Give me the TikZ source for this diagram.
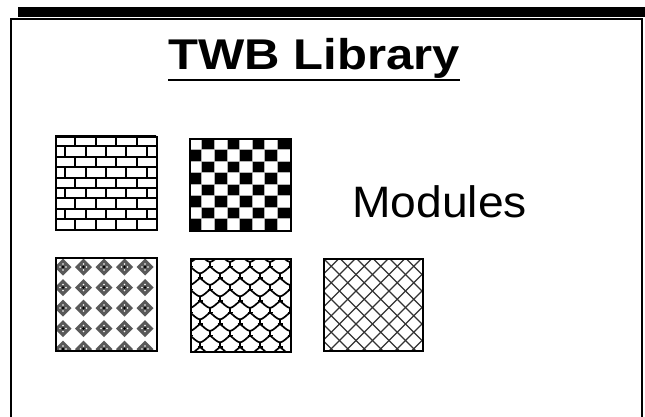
\documentclass[tikz,border=0pt]{standalone}
\usepackage{fontspec}
\setmainfont{Liberation Sans}
\begin{document}
\begin{tikzpicture}[x=1pt,y=-1pt,
  tile/.style={draw=black,line width=2.2pt,minimum width=101pt,minimum height=93pt,inner sep=0pt,anchor=north west},
  pat/.style={line width=2.1pt,black},
  titletext/.style={inner sep=0pt,anchor=base,font=\fontsize{43}{46}\selectfont\bfseries},
  labeltext/.style={inner sep=0pt,anchor=base west,font=\fontsize{44}{46}\selectfont}]
\useasboundingbox (0,0) rectangle (645,417);
% top bar and frame
\fill[black] (18,7) rectangle (645,17);
\draw[line width=2pt] (11,425) |- (642,19) -- (642,425);
% title
\node[titletext] (title) at (314,70) {\scalebox{1.14}[1]{TWB Library}};
\draw[line width=2.5pt] ([yshift=-10pt]title.base west) -- ([yshift=-10pt]title.base east);
\node[labeltext] (modules) at (352,217) {\scalebox{1.05}[1]{Modules}};
% ---- brick
\begin{scope}
\clip (55,136) rectangle (156,229);
\foreach \j in {0,...,9} {
  \draw[pat] (50,{136+\j*10.4}) -- (160,{136+\j*10.4});
}
\foreach \j in {0,...,8} {
  \pgfmathsetmacro{\off}{mod(\j,2)==0 ? 0 : 10.2}
  \foreach \k in {0,...,5} {
    \draw[pat] ({55+\off+\k*20.4},{136+\j*10.4}) -- ++(0,10.4);
  }
}
\end{scope}
\node[tile] (brick) at (55,136) {};
% ---- checker
\begin{scope}
\clip (189,138) rectangle (290,230);
\foreach \i in {0,...,7} {
  \foreach \j in {0,...,7} {
    \pgfmathtruncatemacro{\parity}{mod(\i+\j,2)}
    \ifnum\parity=1
      \fill[black] ({189+\i*12.6},{138+\j*11.5}) rectangle ++(12.6,11.5);
    \fi
  }
}
\foreach \i in {1,...,7} {
  \draw[gray!60,line width=0.6pt] ({189+\i*12.6},138) -- ++(0,92);
  \draw[gray!60,line width=0.6pt] (189,{138+\i*11.5}) -- ++(101,0);
}
\end{scope}
\node[tile,minimum width=101pt,minimum height=92pt] (checker) at (189,138) {};
% ---- diamonds
\begin{scope}
\clip (55,257) rectangle (156,350);
\foreach \i in {0,...,4} {
  \foreach \j in {0,...,4} {
    \fill[black!65] ({63+\i*20.5},{267+\j*20.5}) +(-8.5,0) -- +(0,-8.5) -- +(8.5,0) -- +(0,8.5) -- cycle;
    \foreach \dx/\dy in {-3/0,3/0,0/-3,0/3} {
      \fill[white] ({63+\i*20.5+\dx},{267+\j*20.5+\dy}) circle (0.9pt);
    }
    \fill[black] ({63+\i*20.5},{267+\j*20.5}) circle (1.3pt);
  }
}
\end{scope}
\node[tile] (diamonds) at (55,257) {};
% ---- scales
\begin{scope}
\clip (190,258) rectangle (290,351);
\foreach \j in {0,...,8} {
  \pgfmathsetmacro{\off}{mod(\j,2)==0 ? 0 : 10}
  \foreach \k in {-1,...,5} {
    \draw[line width=1.7pt] ({190+\off+\k*20},{262+\j*11.5})
      .. controls +(4,-1) and +(-4,3) .. +(10,-7)
      .. controls +(4,3) and +(-4,-1) .. +(20,0);
    \draw[line width=1.7pt] ({190+\off+\k*20},{262+\j*11.5}) -- ++(0,4.5);
    \draw[line width=1.7pt] ({190+\off+\k*20-2.5},{266.5+\j*11.5}) -- ++(5,0);
  }
}
\end{scope}
\node[tile,minimum width=100pt] (scales) at (190,258) {};
% ---- crosshatch
\begin{scope}
\clip (323,258) rectangle (422,350);
\foreach \k in {-8,...,8} {
  \draw[line width=1.2pt,black!80] ({323+\k*16.5},258) -- ++(100,100);
  \draw[line width=1.2pt,black!80] ({323+\k*16.5+99},258) -- ++(-100,100);
}
\end{scope}
\node[tile,minimum width=99pt,minimum height=92pt] (cross) at (323,258) {};
\end{tikzpicture}
\end{document}
